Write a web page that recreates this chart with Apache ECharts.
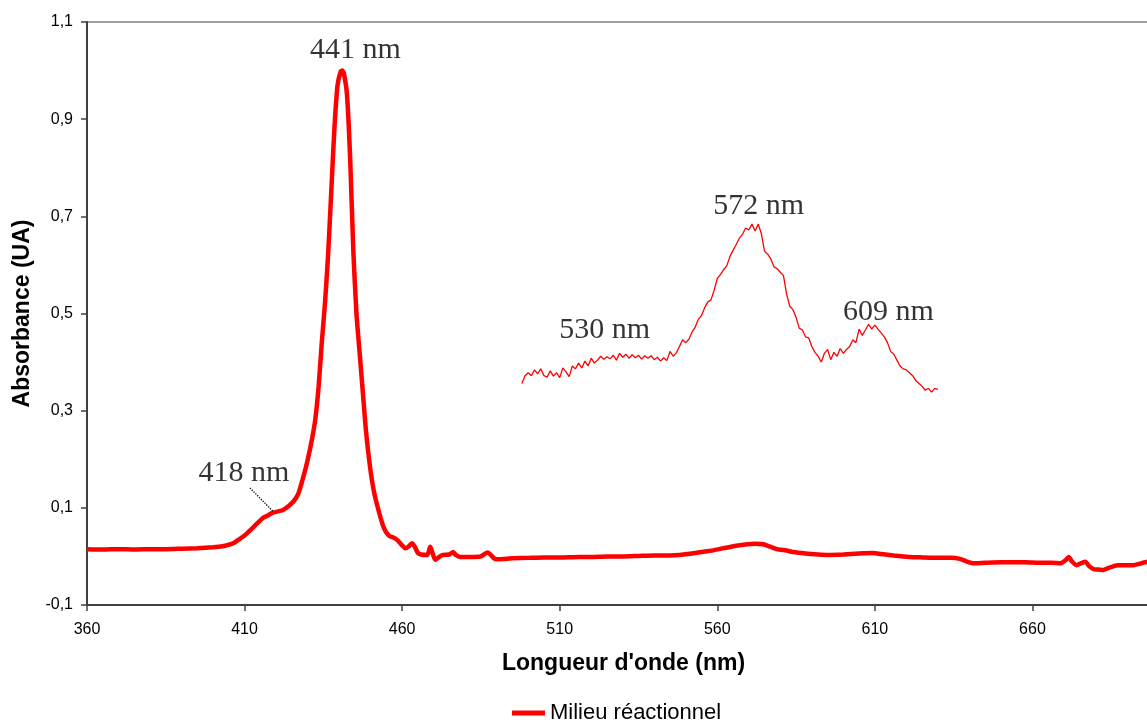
<!DOCTYPE html>
<html>
<head>
<meta charset="utf-8">
<script src="https://cdn.jsdelivr.net/npm/echarts@6/dist/echarts.min.js"></script>
<style>
html,body{margin:0;padding:0;background:#fff;overflow:hidden;}
#chart{width:1190px;height:722px;}
</style>
</head>
<body>
<div id="chart"></div>
<script>
// ---- Data ----
const seriesName = 'Milieu réactionnel';
const xTitle = "Longueur d'onde (nm)";
const yTitle = 'Absorbance (UA)';

// Main spectrum (thick line)
const mainWavelengths = [360,365,370,375,380,385,390,395,400,403,405,406.4,408,410,412,414,416,417,419,422,424,425.5,427,428.5,430,431.5,432.5,433.5,434.5,435.5,436.5,437.5,438.5,439.5,440.5,441,441.5,442.5,443.5,444.5,445.5,446.5,447.5,448.5,449.8,451,452.5,454,455.1,456,457.2,458.4,459.4,461,462,463.1,464,465,466,468,468.9,469.5,470.5,472,473,475,476.2,477,478.4,480,482.5,485,487,488,489,490,495,500,505,510,516,520,525,530,535,540,545,548,552,556,559,562,566,569.5,572,574.6,576.8,579,582,584,588,592,595,600,605,609.5,612,616,621,625,630,634,637,639,641,645,650,655,658,662,666,669,670.5,671.5,672.5,674,675.5,676.8,678,679.4,681,682.5,684,687,690,692,694,696.5,700];
const mainAbsorbance = [0.015,0.014,0.015,0.014,0.015,0.015,0.016,0.017,0.019,0.021,0.024,0.027,0.034,0.043,0.055,0.068,0.080,0.083,0.090,0.095,0.104,0.113,0.128,0.160,0.198,0.245,0.285,0.350,0.440,0.520,0.620,0.750,0.880,0.970,0.998,1.000,0.995,0.950,0.820,0.630,0.500,0.420,0.340,0.260,0.185,0.135,0.095,0.062,0.048,0.042,0.039,0.034,0.027,0.017,0.020,0.027,0.020,0.007,0.004,0.003,0.020,0.010,-0.007,0.000,0.003,0.004,0.009,0.003,-0.001,-0.001,-0.001,0.000,0.008,0.004,-0.003,-0.006,-0.004,-0.003,-0.002,-0.002,-0.001,-0.001,0.000,0.000,0.001,0.002,0.002,0.003,0.006,0.010,0.013,0.017,0.022,0.025,0.026,0.025,0.020,0.015,0.012,0.009,0.006,0.004,0.003,0.004,0.006,0.007,0.005,0.002,-0.001,-0.002,-0.003,-0.003,-0.005,-0.010,-0.014,-0.013,-0.012,-0.012,-0.012,-0.013,-0.013,-0.014,-0.008,-0.001,-0.010,-0.018,-0.014,-0.011,-0.020,-0.026,-0.027,-0.028,-0.024,-0.018,-0.018,-0.018,-0.015,-0.011,-0.008];

// Magnified 498–630 nm region (thin line)
const insetWavelengths = [498,499,500,501,502,503,504,505,506,507,508,509,510,511,512,513,514,515,516,517,518,519,520,521,522,523,524,525,526,527,528,529,530,531,532,533,534,535,536,537,538,539,540,541,542,543,544,545,546,547,548,549,550,551,552,553,554,555,556,557,558,559,560,561,562,563,564,565,566,567,568,569,570,571,572,573,574,575,576,577,578,579,580,581,582,583,584,585,586,587,588,589,590,591,592,593,594,595,596,597,598,599,600,601,602,603,604,605,606,607,608,609,610,611,612,613,614,615,616,617,618,619,620,621,622,623,624,625,626,627,628,629,630];
const insetAbsorbance = [0.356,0.372,0.378,0.372,0.384,0.376,0.386,0.372,0.369,0.382,0.371,0.378,0.368,0.388,0.380,0.370,0.392,0.386,0.398,0.388,0.402,0.392,0.408,0.398,0.404,0.412,0.406,0.411,0.407,0.414,0.404,0.418,0.410,0.416,0.408,0.415,0.409,0.414,0.406,0.413,0.408,0.413,0.405,0.410,0.402,0.409,0.403,0.422,0.412,0.419,0.432,0.446,0.440,0.447,0.462,0.472,0.488,0.496,0.512,0.524,0.528,0.548,0.572,0.580,0.590,0.598,0.617,0.630,0.642,0.655,0.663,0.676,0.672,0.684,0.670,0.684,0.664,0.628,0.622,0.612,0.596,0.592,0.585,0.578,0.540,0.515,0.508,0.492,0.470,0.466,0.452,0.450,0.432,0.420,0.412,0.400,0.418,0.426,0.405,0.420,0.412,0.428,0.418,0.426,0.432,0.446,0.440,0.468,0.455,0.466,0.478,0.468,0.476,0.468,0.460,0.452,0.440,0.422,0.416,0.404,0.392,0.386,0.384,0.378,0.372,0.362,0.356,0.350,0.342,0.346,0.338,0.346,0.344];

// Peak annotations (text, position in data units)
const annotationTexts = ['441 nm','418 nm','530 nm','572 nm','609 nm'];
const annotationX = [445.2, 409.8, 524.3, 573.1, 614.3];
const annotationY = [1.042, 0.172, 0.466, 0.720, 0.502];
// dotted leader line for 418 nm (data units)
const leaderFrom = [411.7, 0.141];
const leaderTo = [419.0, 0.093];

// Axis settings
const xMin = 360, xMax = 710, xStep = 50;
const yMin = -0.1, yMax = 1.1, yStep = 0.2;

// ---- Chart ----
const zip = (a, b) => a.map((v, i) => [v, b[i]]);
const chart = echarts.init(document.getElementById('chart'), null, {renderer: 'canvas'});
const sans = '"Liberation Sans", Arial, sans-serif';
const serif = '"Liberation Serif", "Times New Roman", serif';

chart.setOption({
  animation: false,
  backgroundColor: '#ffffff',
  grid: {
    left: 87, top: 22, bottom: 117, right: 0,
    outerBoundsMode: 'none', containLabel: false,
    show: true, borderColor: '#a0a0a0', borderWidth: 2, backgroundColor: 'transparent'
  },
  legend: {
    data: [seriesName],
    left: 512, top: 702, padding: 0,
    icon: 'rect', itemWidth: 33, itemHeight: 5, itemGap: 10,
    textStyle: {fontFamily: sans, fontSize: 22, color: '#000'}
  },
  xAxis: {
    type: 'value', min: xMin, max: xMax, interval: xStep,
    splitLine: {show: false},
    axisLine: {show: true, onZero: false, lineStyle: {color: '#404040', width: 2}},
    axisTick: {show: true, length: 6, lineStyle: {color: '#404040', width: 1.5}},
    axisLabel: {fontFamily: sans, fontSize: 16, color: '#000', margin: 17},
    name: xTitle, nameLocation: 'middle', nameGap: 47,
    nameTextStyle: {fontFamily: sans, fontSize: 23, fontWeight: 'bold', color: '#000', padding: [0, 30, 0, 0]}
  },
  yAxis: {
    type: 'value', min: yMin, max: yMax, interval: yStep,
    splitLine: {show: false},
    axisLine: {show: true, onZero: false, lineStyle: {color: '#404040', width: 2}},
    axisTick: {show: true, length: 6, lineStyle: {color: '#404040', width: 1.5}},
    axisLabel: {fontFamily: sans, fontSize: 16, color: '#000', margin: 14,
      formatter: v => v.toFixed(1).replace('.', ',')},
    name: yTitle, nameLocation: 'middle', nameGap: 52,
    nameTextStyle: {fontFamily: sans, fontSize: 23, fontWeight: 'bold', color: '#000'}
  },
  series: [
    {
      name: seriesName, type: 'line', data: zip(mainWavelengths, mainAbsorbance),
      showSymbol: false, smooth: 0.2,
      lineStyle: {color: '#ff0000', width: 4.5}, itemStyle: {color: '#ff0000'},
      markLine: {
        silent: true, symbol: ['none', 'none'], label: {show: false},
        lineStyle: {color: '#000', type: 'dotted', width: 1.3},
        data: [[{coord: leaderFrom}, {coord: leaderTo}]]
      },
      z: 2
    },
    {
      name: 'inset', type: 'line', data: zip(insetWavelengths, insetAbsorbance),
      showSymbol: false,
      lineStyle: {color: '#ff0000', width: 1.3}, itemStyle: {color: '#ff0000'},
      z: 3
    },
    {
      name: 'annotations', type: 'scatter', symbolSize: 0,
      data: annotationTexts.map((t, i) => ({value: [annotationX[i], annotationY[i]], name: t})),
      label: {show: true, position: 'inside', formatter: p => p.name,
        fontFamily: serif, fontSize: 30, color: '#000'},
      silent: true, z: 5
    }
  ]
});
</script>
</body>
</html>
